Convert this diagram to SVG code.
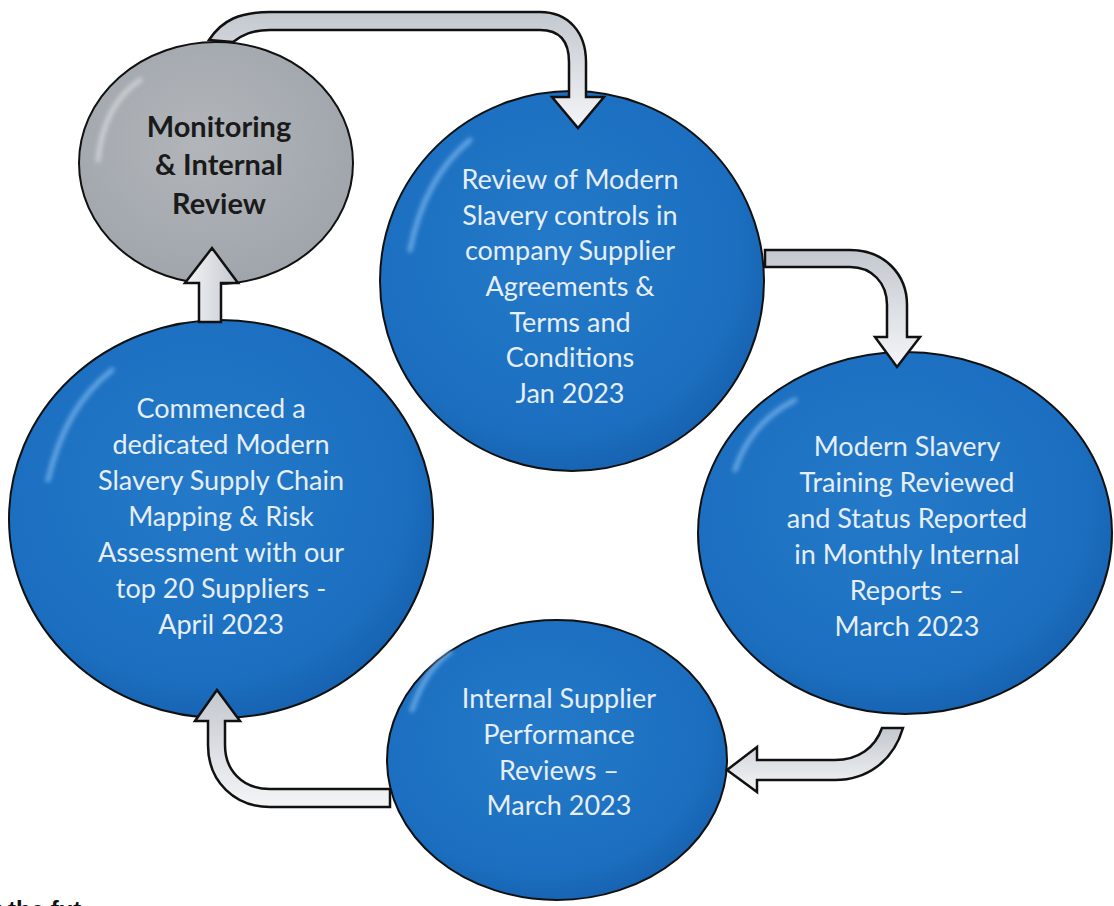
<svg xmlns="http://www.w3.org/2000/svg" width="1114" height="906" viewBox="0 0 1114 906">
<defs>
<radialGradient id="blueG" cx="0.45" cy="0.42" r="0.6">
<stop offset="0" stop-color="#2479c8"/>
<stop offset="0.8" stop-color="#1c6fc0"/>
<stop offset="1" stop-color="#1662b0"/>
</radialGradient>
<radialGradient id="grayG" cx="0.45" cy="0.42" r="0.6">
<stop offset="0" stop-color="#b2b6bb"/>
<stop offset="1" stop-color="#a0a5ab"/>
</radialGradient>
<linearGradient id="arrG" x1="0" y1="0" x2="0" y2="1">
<stop offset="0" stop-color="#c3c8cf"/>
<stop offset="1" stop-color="#f4f5f7"/>
</linearGradient>
<linearGradient id="arrGH" x1="0" y1="0" x2="1" y2="0">
<stop offset="0" stop-color="#f4f5f7"/>
<stop offset="1" stop-color="#c3c8cf"/>
</linearGradient>
<filter id="blur" x="-20%" y="-20%" width="140%" height="140%"><feGaussianBlur stdDeviation="2"/></filter>
<style>
.blue{fill:url(#blueG);stroke:#111;stroke-width:2}
.gray{fill:url(#grayG);stroke:#111;stroke-width:2}
.hl{fill:none;stroke:#9fd0ff;stroke-width:5;stroke-linecap:round;opacity:0.55;filter:url(#blur)}
.t{font-family:Lato,"Liberation Sans",sans-serif;font-size:27px;fill:#e6eef8;text-anchor:middle}
.tg{font-family:Lato,"Liberation Sans",sans-serif;font-size:29px;font-weight:bold;fill:#1a1a1a;text-anchor:middle}
.arr{stroke:#111;stroke-width:2.5;stroke-linejoin:miter}
.cut{font-family:"Liberation Sans",sans-serif;font-size:24px;font-weight:bold;fill:#111}
</style>
</defs>
<rect width="1114" height="906" fill="#ffffff"/>

<g id="node-monitoring">
<ellipse class="gray" cx="216" cy="163" rx="137" ry="121"/>
<path class="hl" d="M98 160 C102 120 118 95 140 80" style="stroke:#e8ecf0"/>
<text class="tg" x="219" y="137">Monitoring</text>
<text class="tg" x="219" y="175">&amp; Internal</text>
<text class="tg" x="219" y="214">Review</text>
</g>

<g id="node-review">
<ellipse class="blue" cx="572" cy="281" rx="192" ry="190"/>
<path class="hl" d="M410 250 C420 200 440 165 470 140"/>
<text class="t" x="570" y="189">Review of Modern</text>
<text class="t" x="570" y="225">Slavery controls in</text>
<text class="t" x="570" y="260">company Supplier</text>
<text class="t" x="570" y="296">Agreements &amp;</text>
<text class="t" x="570" y="332">Terms and</text>
<text class="t" x="570" y="367">Conditions</text>
<text class="t" x="570" y="403">Jan 2023</text>
</g>

<g id="node-training">
<ellipse class="blue" cx="905" cy="533" rx="207" ry="181"/>
<path class="hl" d="M735 470 C745 440 765 415 795 400"/>
<text class="t" x="907" y="456">Modern Slavery</text>
<text class="t" x="907" y="492">Training Reviewed</text>
<text class="t" x="907" y="528">and Status Reported</text>
<text class="t" x="907" y="564">in Monthly Internal</text>
<text class="t" x="907" y="600">Reports –</text>
<text class="t" x="907" y="636">March 2023</text>
</g>

<g id="node-performance">
<ellipse class="blue" cx="557" cy="760" rx="170" ry="140"/>
<path class="hl" d="M412 710 C420 685 432 665 450 652"/>
<text class="t" x="559" y="708">Internal Supplier</text>
<text class="t" x="559" y="744">Performance</text>
<text class="t" x="559" y="780">Reviews –</text>
<text class="t" x="559" y="815">March 2023</text>
</g>

<g id="node-mapping">
<ellipse class="blue" cx="221" cy="519" rx="212" ry="199"/>
<path class="hl" d="M48 480 C60 430 80 395 112 370"/>
<text class="t" x="221" y="418">Commenced a</text>
<text class="t" x="221" y="454">dedicated Modern</text>
<text class="t" x="221" y="490">Slavery Supply Chain</text>
<text class="t" x="221" y="526">Mapping &amp; Risk</text>
<text class="t" x="221" y="562">Assessment with our</text>
<text class="t" x="221" y="598">top 20 Suppliers -</text>
<text class="t" x="221" y="634">April 2023</text>
</g>

<g id="connectors">
<path class="arr" fill="url(#arrG)" d="M209 40 C222 20 240 12 270 12 L540 12 C568 12 586 32 586 62 L586 97 L604 97 L578 128 L552 97 L569 97 L569 62 C569 42 560 30 540 30 L270 30 C252 30 242 35 233 42 Z"/>
<path class="arr" fill="url(#arrG)" d="M765 250 L850 250 C885 250 907 275 907 305 L907 337 L920 337 L897 367 L875 337 L887 337 L887 305 C887 283 872 267 850 267 L765 267 Z"/>
<path class="arr" fill="url(#arrG)" d="M903 728 C893 762 866 780 835 780 L757 780 L757 792 L727 770 L757 747 L757 760 L835 760 C858 760 875 748 882 728 Z"/>
<path class="arr" fill="url(#arrG)" d="M390 789 L270 789 C242 789 225 770 225 745 L225 721 L240 721 L217 690 L195 721 L208 721 L208 745 C208 782 235 807 270 807 L390 807 Z"/>
<path class="arr" fill="url(#arrGH)" d="M199 322 L199 283 L185 283 L212 248 L238 283 L221 283 L221 322 Z"/>
</g>

<text class="cut" x="-8" y="918">r the fut</text>
</svg>
